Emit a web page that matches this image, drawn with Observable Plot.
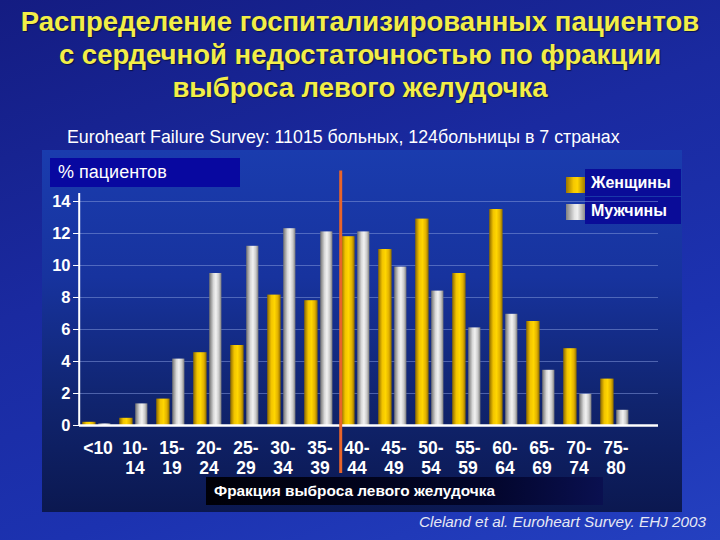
<!DOCTYPE html>
<html>
<head>
<meta charset="utf-8">
<script src="https://cdn.jsdelivr.net/npm/d3@7"></script>
<script src="https://cdn.jsdelivr.net/npm/@observablehq/plot@0.6"></script>
<style>
  html, body { margin:0; padding:0; }
  body { width:720px; height:540px; overflow:hidden; font-family: Arial, "Liberation Sans", sans-serif; }
  #root { position:relative; width:720px; height:540px;
    background: linear-gradient(160deg, #141c82 0%, #1a2aa0 40%, #1c32b0 70%, #2440c0 100%); }
  #title { position:absolute; left:0; top:5px; width:720px; text-align:center; color:#f2ee48;
    font-weight:bold; font-size:27.5px; line-height:33px; white-space:nowrap; text-shadow: 1px 1px 1px rgba(0,0,0,0.5); }
  #subtitle { position:absolute; left:67px; top:127px; color:#fff; font-size:17.8px; white-space:nowrap; }
  #panel { position:absolute; left:42px; top:150px; width:640px; height:362px;
    background: linear-gradient(to bottom, #1a3cae 0%, #17339e 35%, #10246e 70%, #0b1850 100%); }
  #ylabel { position:absolute; left:50px; top:158px; width:190px; height:29px; background:#0808a0;
    color:#fff; font-size:18px; line-height:29px; box-sizing:border-box; padding-left:8px; }
  .leg { position:absolute; left:585px; width:96px; height:27px; background:#0a0c98; color:#fff;
    font-weight:bold; font-size:16px; line-height:27px; box-sizing:border-box; padding-left:6px; }
  .sw { position:absolute; left:566px; width:19px; height:16px; }
  #xlabel { position:absolute; left:206px; top:477px; width:397px; height:28px;
    background: linear-gradient(to right, #000008 0%, #02052a 70%, #0a1050 100%);
    color:#fff; font-weight:bold; font-size:15.4px; line-height:28px; box-sizing:border-box; padding-left:8px; }
  #caption { position:absolute; left:419px; top:513px; color:#e6e8f4; font-style:italic; font-size:15.3px; white-space:nowrap; }
  #chart { position:absolute; left:0; top:150px; }
</style>
</head>
<body>
<div id="root">
  <div id="title">Распределение госпитализированных пациентов<br>с сердечной недостаточностью по фракции<br>выброса левого желудочка</div>
  <div id="subtitle">Euroheart Failure Survey: 11015 больных, 124больницы в 7 странах</div>
  <div id="panel"></div>
  <div id="ylabel">% пациентов</div>
  <div class="sw" style="top:177px;background:linear-gradient(to right,#9a7400,#f6c800 40%,#ffd400 60%,#a07c00)"></div>
  <div class="leg" style="top:169px">Женщины</div>
  <div class="sw" style="top:204px;background:linear-gradient(to right,#808080,#e4e4e4 45%,#f0f0f0 60%,#8c8c8c)"></div>
  <div class="leg" style="top:197px">Мужчины</div>
  <div id="chart"></div>
  <div id="xlabel">Фракция выброса левого желудочка</div>
  <div id="caption">Cleland et al. Euroheart Survey. EHJ 2003</div>
</div>
<script>
// ---- data ----
const groups = ["<10","10-14","15-19","20-24","25-29","30-34","35-39","40-44","45-49","50-54","55-59","60-64","65-69","70-74","75-80"];
const xTickLabels = ["<10","10-\n14","15-\n19","20-\n24","25-\n29","30-\n34","35-\n39","40-\n44","45-\n49","50-\n54","55-\n59","60-\n64","65-\n69","70-\n74","75-\n80"];
const women = [0.2, 0.45, 1.65, 4.55, 5.0, 8.15, 7.8, 11.8, 11.0, 12.9, 9.5, 13.5, 6.5, 4.8, 2.9];
const men   = [0.1, 1.35, 4.15, 9.5, 11.2, 12.3, 12.1, 12.1, 9.9, 8.4, 6.1, 6.95, 3.45, 1.95, 0.95];
const yTicks = [0, 2, 4, 6, 8, 10, 12, 14];
const thresholdGroup = "40-44";

const womenRows = groups.map((g, i) => ({group: g, value: women[i]}));
const menRows = groups.map((g, i) => ({group: g, value: men[i]}));

const step = (720 - 79 - 62) / 15.4;
const half = step / 2;

const chart = Plot.plot({
  width: 720, height: 362,
  marginLeft: 79, marginRight: 62, marginTop: 43, marginBottom: 87,
  style: {background: "transparent", color: "white", fontFamily: "Arial, 'Liberation Sans', sans-serif", overflow: "visible"},
  x: {type: "band", domain: groups, paddingInner: 0, paddingOuter: 0.2, align: 0},
  y: {domain: [0, 14.5]},
  marks: [
    Plot.ruleY(yTicks.slice(1), {stroke: "#8096d8", strokeOpacity: 0.55, strokeWidth: 1}),
    Plot.barY(womenRows, {x: "group", y: "value", fill: "url(#gF)", insetLeft: 3.2, insetRight: step - 17.2}),
    Plot.barY(menRows, {x: "group", y: "value", fill: "url(#gM)", insetLeft: 19.2, insetRight: 5.6}),
    Plot.ruleY([0], {stroke: "white", strokeWidth: 2.5}),
    Plot.ruleX([groups[0]], {dx: -half, y1: 0, y2: 14.5, stroke: "white", strokeWidth: 2}),
    Plot.ruleX([thresholdGroup], {dx: -half + 2.5, y1: -3, y2: 15.9, stroke: "#e8642a", strokeWidth: 3}),
    Plot.axisY({ticks: yTicks, tickSize: 6, tickPadding: 3, fontSize: 16.5, fontWeight: "bold", label: null}),
    Plot.axisX({tickSize: 0, tickPadding: 15, fontSize: 17.5, fontWeight: "bold", lineHeight: 1.12,
      tickFormat: d => xTickLabels[groups.indexOf(d)], label: null})
  ]
});

const defs = d3.select(chart).insert("defs", ":first-child");
function grad(id, stops) {
  const g = defs.append("linearGradient").attr("id", id).attr("x1", "0").attr("x2", "1").attr("y1", "0").attr("y2", "0");
  stops.forEach(([o, c]) => g.append("stop").attr("offset", o).attr("stop-color", c));
}
grad("gF", [[0, "#8a6800"], [0.3, "#f2c400"], [0.55, "#ffd600"], [0.8, "#e0b000"], [1, "#8c6c00"]]);
grad("gM", [[0, "#707070"], [0.35, "#d8d8d8"], [0.55, "#f2f2f2"], [0.8, "#c8c8c8"], [1, "#7a7a7a"]]);

document.getElementById("chart").appendChild(chart);
</script>
</body>
</html>
